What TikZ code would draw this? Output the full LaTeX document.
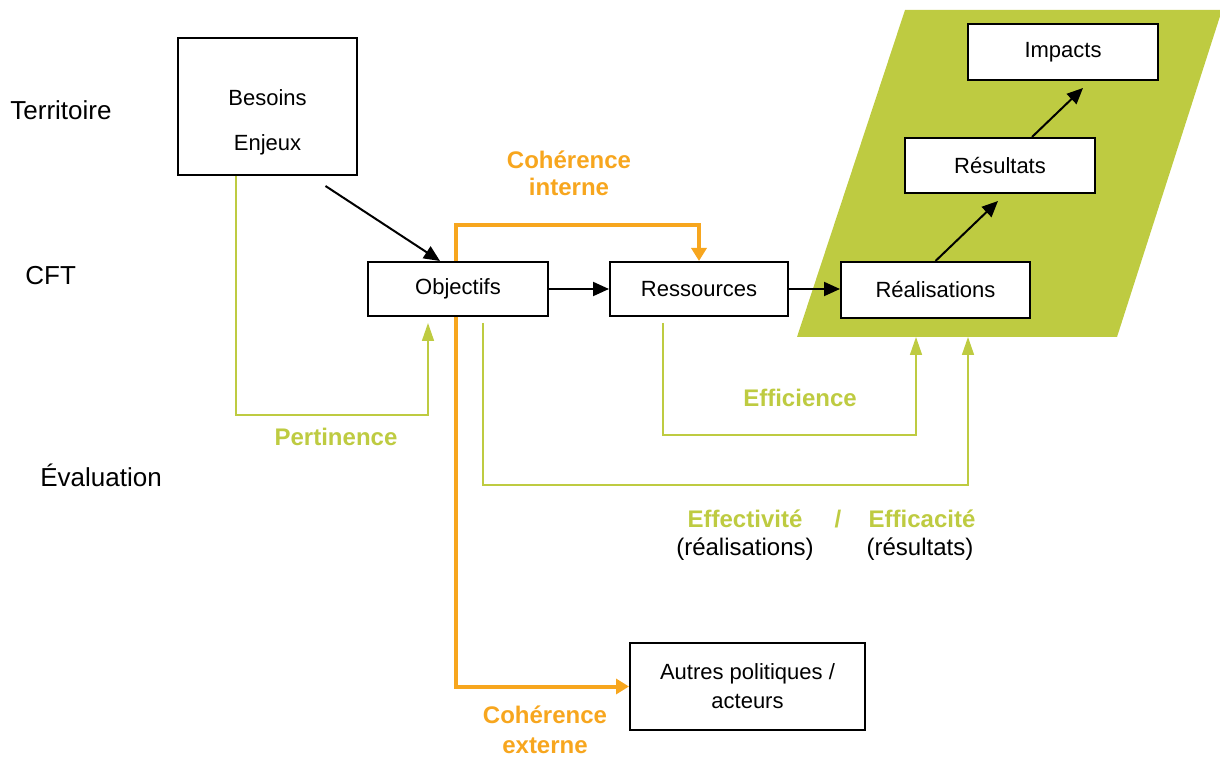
\documentclass[tikz,border=0pt]{standalone}
\usepackage{fontspec}
\setmainfont{Liberation Sans}
\usetikzlibrary{arrows.meta}
\definecolor{vertzone}{RGB}{190,203,65}
\definecolor{orangecoh}{RGB}{247,166,30}

\begin{document}
\begin{tikzpicture}[x=0.5pt,y=-0.5pt]
        % Styles
        \tikzstyle{box}=[draw,line width=1pt,fill=white,minimum width=90pt,minimum height=27pt,inner sep=2pt,align=center,font=\fontsize{11}{14.5}\selectfont]
        \tikzstyle{niveau}=[anchor=west,inner sep=0pt,font=\fontsize{13}{15}\selectfont]
        \tikzstyle{flux}=[line width=1pt,-{Triangle[length=8pt,width=7pt]}]
        \tikzstyle{coh}=[orangecoh,line width=2pt,-{Triangle[length=6.5pt,width=7.5pt]}]
        \tikzstyle{evalline}=[vertzone,line width=0.8pt,-{Triangle[length=9pt,width=6pt]}]
        \tikzstyle{evaltext}=[vertzone,font=\bfseries\fontsize{12}{14}\selectfont]
        \tikzstyle{cohtext}=[orangecoh,align=center,font=\bfseries\fontsize{12}{13.5}\selectfont]
        \useasboundingbox (0,0) rectangle (1220,758);
        %green zone
        \fill[vertzone] (905,10) -- (1222,10) -- (1117,337) -- (797,337) -- cycle;
        %levels
        \node[niveau] (lterr) at (10,110) {Territoire};
        \node[niveau] (lcft) at (25,276) {CFT};
        \node[niveau] (leval) at (40,475) {Évaluation};
        %boxes
        \node[box,minimum width=89.5pt,minimum height=68.5pt,font=\fontsize{11}{22.5}\selectfont] (bes) at (267.5,106.5) {\rule{0pt}{24pt}Besoins\\Enjeux};
        \node[box] (obj) at (458,289) {Objectifs};
        \node[box,minimum width=89pt] (res) at (699,289) {Ressources};
        \node[box,minimum width=94.5pt,minimum height=28pt] (rea) at (935.5,290) {Réalisations};
        \node[box,minimum width=95pt,minimum height=27.5pt] (resu) at (1000,165.5) {Résultats};
        \node[box,minimum width=95pt,minimum height=28pt] (imp) at (1063,52) {Impacts};
        \node[box,minimum width=117.5pt,minimum height=43.5pt] (autres) at (747.5,686.5) {Autres politiques /\\acteurs};
        %chain
        \draw[flux] ([xshift=29pt,yshift=-5pt]bes.south) -- ([xshift=-9pt]obj.north);
        \draw[flux] (obj) -- (res);
        \draw[flux] (res.east) -- (res.east -| rea.west);
        \draw[flux] (rea.north) -- ([xshift=-1pt,yshift=-3.5pt]resu.south);
        \draw[flux] ([xshift=16pt]resu.north) -- ([xshift=10pt,yshift=-3.5pt]imp.south);
        %coherence
        \coordinate (ci) at (456,225);
        \draw[coh] (obj.north -| ci) -- (ci) -| (res.north);
        \draw[coh] (obj.south -| ci) |- (autres.west);
        \node[cohtext] (lci) at (569,173) {Cohérence\\interne};
        \node[cohtext,font=\bfseries\fontsize{12}{15}\selectfont] (lce) at (545,730) {Cohérence\\externe};
        %evaluation
        \coordinate (pert) at (236,415);
        \draw[evalline] (bes.south -| pert) -- (pert) -| ([xshift=-15pt,yshift=-3pt]obj.south);
        \coordinate (effi) at (663,435);
        \coordinate (effiend) at (916,337);
        \draw[evalline,shorten <=3pt] (res.south -| effi) -- (effi) -| (effiend);
        \coordinate (effe) at (483,485);
        \coordinate (effeend) at (968,337);
        \draw[evalline,shorten <=3pt] (obj.south -| effe) -- (effe) -| (effeend);
        \node[evaltext] (lpert) at (336,437) {Pertinence};
        \node[evaltext] (leffi) at (800,398) {Efficience};
        \node[evaltext] (leffe) at (745,519) {Effectivité};
        \node[evaltext] (lslash) at (838,519) {/};
        \node[evaltext] (leffa) at (922,519) {Efficacité};
        \node[font=\fontsize{12}{14}\selectfont] (lrea) at (745,549) {(réalisations)};
        \node[font=\fontsize{12}{14}\selectfont] (lres) at (920,549) {(résultats)};
\end{tikzpicture}
\end{document}
